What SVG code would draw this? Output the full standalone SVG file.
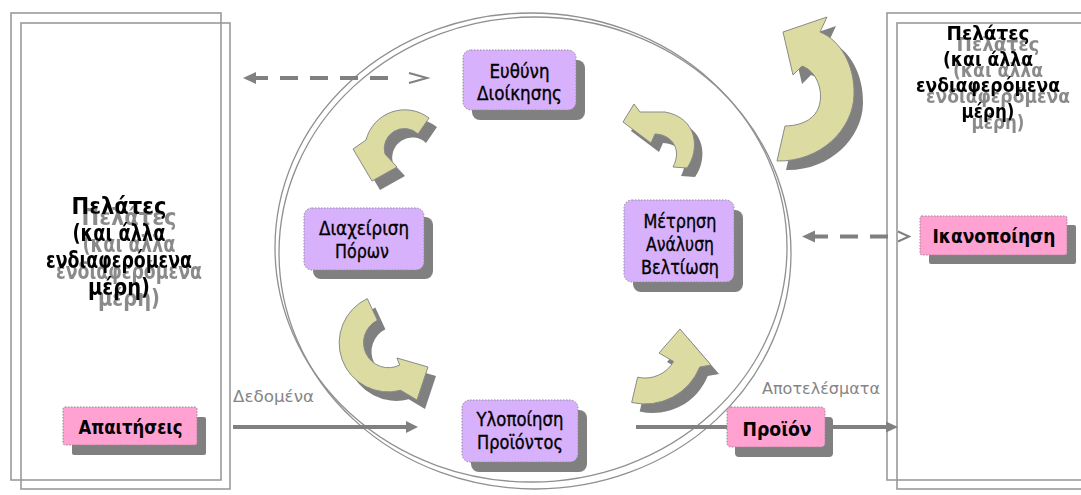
<svg xmlns="http://www.w3.org/2000/svg" xmlns:xlink="http://www.w3.org/1999/xlink" width="1081" height="495" viewBox="0 0 1081 495">
<style>
.frame{fill:none;stroke:#9a9a9a;stroke-width:1.6}
.ring{fill:none;stroke:#909090;stroke-width:1.3}
.t{font-family:"DejaVu Sans","Noto Sans",sans-serif;text-anchor:middle;fill:#000}
.cl{font-weight:bold}
.lbl{font-size:19px;stroke:#000;stroke-width:0.35}
.plbl{font-size:19px;font-weight:bold}
.glbl{font-family:"DejaVu Sans","Noto Sans",sans-serif;font-size:16px;fill:#858585}
.pbox{fill:#D7B1FC;stroke:#8c8c8c;stroke-width:1;stroke-dasharray:1.5 1.5}
.kbox{fill:#FFA2D2;stroke:#8c8c8c;stroke-width:1;stroke-dasharray:1.5 1.5}
.shd{fill:#808080}
.arw{fill:#DCDCA2;stroke:#8a8a8a;stroke-width:1}
.ash{fill:#808080}
.conn{stroke:#808080;stroke-width:4;fill:none}
.dash{stroke-dasharray:18 12}
.head{fill:#808080}
.chev{fill:none;stroke:#808080;stroke-width:2}
</style>
<defs>
<filter id="tshadow" x="-5%" y="-5%" width="125%" height="135%">
<feOffset in="SourceAlpha" dx="10" dy="11" result="o"/>
<feFlood flood-color="#8a8a8a"/>
<feComposite in2="o" operator="in" result="s"/>
<feGaussianBlur in="s" stdDeviation="0.5" result="sb"/>
<feMerge><feMergeNode in="sb"/><feMergeNode in="SourceGraphic"/></feMerge>
</filter>
<path id="a1" d="M429,118 A40,40 0 0 0 366,140 L353,149 L372,181 L397,167 L385,154 A20,20 0 0 1 418,134 Z"/>
<path id="a2" d="M367.3,298.6 A49,49 0 0 0 400.7,390.3 L417,400 L428,367 L397,358 L399.7,365.1 A25,25 0 1 1 377.4,320.3 Z"/>
<path id="a3" d="M631.7,402.5 A59,59 0 0 0 699.7,367.1 L711,365 L680,329 L659,353 L673.6,361.5 A33,33 0 0 1 637.6,377.2 Z"/>
<path id="a4" d="M687,168 C700,150 698,118 665,112 L640,112 L634,104 L623,122 L651,143 L655,134 C670,134 683,148 673,167 Z"/>
<path id="a5" d="M777,161 C820,162 853,130 854,95 C855,65 840,40 820,32 L827,17 L783,32 L793,75 L802,66 C820,72 826,100 815,114 C808,123 795,126 785,126 Z"/>
</defs>
<rect width="1081" height="495" fill="#fff"/>

<g id="clients-left">
<rect class="frame" x="11" y="13" width="210" height="467"/>
<rect class="frame" x="21" y="23" width="209" height="466"/>
<g class="t cl" font-size="23" filter="url(#tshadow)">
<text x="119" y="214" textLength="95" lengthAdjust="spacingAndGlyphs">Πελάτες</text>
<text x="119" y="241" textLength="93" lengthAdjust="spacingAndGlyphs">(και άλλα</text>
<text x="119" y="268" textLength="146" lengthAdjust="spacingAndGlyphs">ενδιαφερόμενα</text>
<text x="119" y="295" textLength="62" lengthAdjust="spacingAndGlyphs">μέρη)</text>
</g>
</g>

<g id="clients-right">
<rect class="frame" x="887" y="13" width="210" height="467"/>
<rect class="frame" x="897" y="23" width="210" height="466"/>
<g class="t cl" font-size="19" filter="url(#tshadow)">
<text x="988" y="40" textLength="83" lengthAdjust="spacingAndGlyphs">Πελάτες</text>
<text x="988" y="66" textLength="90" lengthAdjust="spacingAndGlyphs">(και άλλα</text>
<text x="988" y="92" textLength="144" lengthAdjust="spacingAndGlyphs">ενδιαφερόμενα</text>
<text x="988" y="118" textLength="53" lengthAdjust="spacingAndGlyphs">μέρη)</text>
</g>
</g>

<g id="process-ring">
<ellipse class="ring" cx="531" cy="247.5" rx="256" ry="234.5"/>
<ellipse class="ring" cx="535" cy="253" rx="256" ry="236"/>
</g>

<g id="connectors">
<line class="conn dash" x1="250" y1="78" x2="400" y2="78"/>
<path class="head" d="M243,78 L256,72 L256,84 Z"/>
<polyline class="chev" points="409,73 427,78 409,83"/>
<line class="conn dash" x1="810" y1="236.5" x2="890" y2="236.5"/>
<path class="head" d="M802,236.5 L815,230.5 L815,242.5 Z"/>
<polyline class="chev" points="898,231.5 909,236.5 898,241.5"/>
<line class="conn" x1="233" y1="427" x2="408" y2="427"/>
<path class="head" d="M406,421 L418,427 L406,433 Z"/>
<line class="conn" x1="636" y1="427" x2="888" y2="427"/>
<path class="head" d="M886,421.5 L898,427 L886,432.5 Z"/>
<text class="glbl" x="233" y="402" textLength="81" lengthAdjust="spacingAndGlyphs">Δεδομένα</text>
<text class="glbl" x="762" y="394" textLength="118" lengthAdjust="spacingAndGlyphs">Αποτελέσματα</text>
</g>

<g id="cycle-arrows">
<use xlink:href="#a1" class="ash" transform="translate(8,9)"/>
<use xlink:href="#a1" class="arw"/>
<use xlink:href="#a2" class="ash" transform="translate(8,9)"/>
<use xlink:href="#a2" class="arw"/>
<use xlink:href="#a3" class="ash" transform="translate(8,9)"/>
<use xlink:href="#a3" class="arw"/>
<use xlink:href="#a4" class="ash" transform="translate(8,9)"/>
<use xlink:href="#a4" class="arw"/>
<use xlink:href="#a5" class="ash" transform="translate(9,9)"/>
<use xlink:href="#a5" class="arw"/>
</g>

<g id="management">
<rect class="shd" x="472" y="60" width="113" height="60" rx="8"/>
<rect class="pbox" x="463" y="50" width="113" height="60" rx="8"/>
<text class="t lbl" x="519.5" y="78" textLength="60" lengthAdjust="spacingAndGlyphs">Ευθύνη</text>
<text class="t lbl" x="519.5" y="100" textLength="85" lengthAdjust="spacingAndGlyphs">Διοίκησης</text>
</g>

<g id="resources">
<rect class="shd" x="313" y="217" width="120" height="62" rx="8"/>
<rect class="pbox" x="304" y="208" width="120" height="62" rx="8"/>
<text class="t lbl" x="364" y="235" textLength="90" lengthAdjust="spacingAndGlyphs">Διαχείριση</text>
<text class="t lbl" x="362" y="258" textLength="54" lengthAdjust="spacingAndGlyphs">Πόρων</text>
</g>

<g id="measurement">
<rect class="shd" x="633" y="210" width="110" height="82" rx="8"/>
<rect class="pbox" x="624" y="200" width="110" height="82" rx="8"/>
<text class="t lbl" x="680" y="228" textLength="73" lengthAdjust="spacingAndGlyphs">Μέτρηση</text>
<text class="t lbl" x="680" y="251" textLength="68" lengthAdjust="spacingAndGlyphs">Ανάλυση</text>
<text class="t lbl" x="680" y="274" textLength="78" lengthAdjust="spacingAndGlyphs">Βελτίωση</text>
</g>

<g id="realization">
<rect class="shd" x="471" y="410" width="116" height="62" rx="8"/>
<rect class="pbox" x="462" y="400" width="116" height="62" rx="8"/>
<text class="t lbl" x="520" y="426" textLength="87" lengthAdjust="spacingAndGlyphs">Υλοποίηση</text>
<text class="t lbl" x="520" y="449" textLength="86" lengthAdjust="spacingAndGlyphs">Προϊόντος</text>
</g>

<g id="requirements">
<rect class="shd" x="72" y="417" width="134" height="38" rx="2"/>
<rect class="kbox" x="63" y="407" width="134" height="38" rx="2"/>
<text class="t plbl" x="130.5" y="434" textLength="104" lengthAdjust="spacingAndGlyphs">Απαιτήσεις</text>
</g>

<g id="satisfaction">
<rect class="shd" x="929" y="225" width="147" height="39" rx="2"/>
<rect class="kbox" x="920" y="216" width="147" height="39" rx="2"/>
<text class="t plbl" x="994" y="243" textLength="123" lengthAdjust="spacingAndGlyphs">Ικανοποίηση</text>
</g>

<g id="product">
<rect class="shd" x="735" y="417" width="98" height="40" rx="4"/>
<rect class="kbox" x="727" y="407" width="98" height="40" rx="4"/>
<text class="t plbl" x="777" y="436" font-size="21" textLength="69" lengthAdjust="spacingAndGlyphs">Προϊόν</text>
</g>
</svg>
